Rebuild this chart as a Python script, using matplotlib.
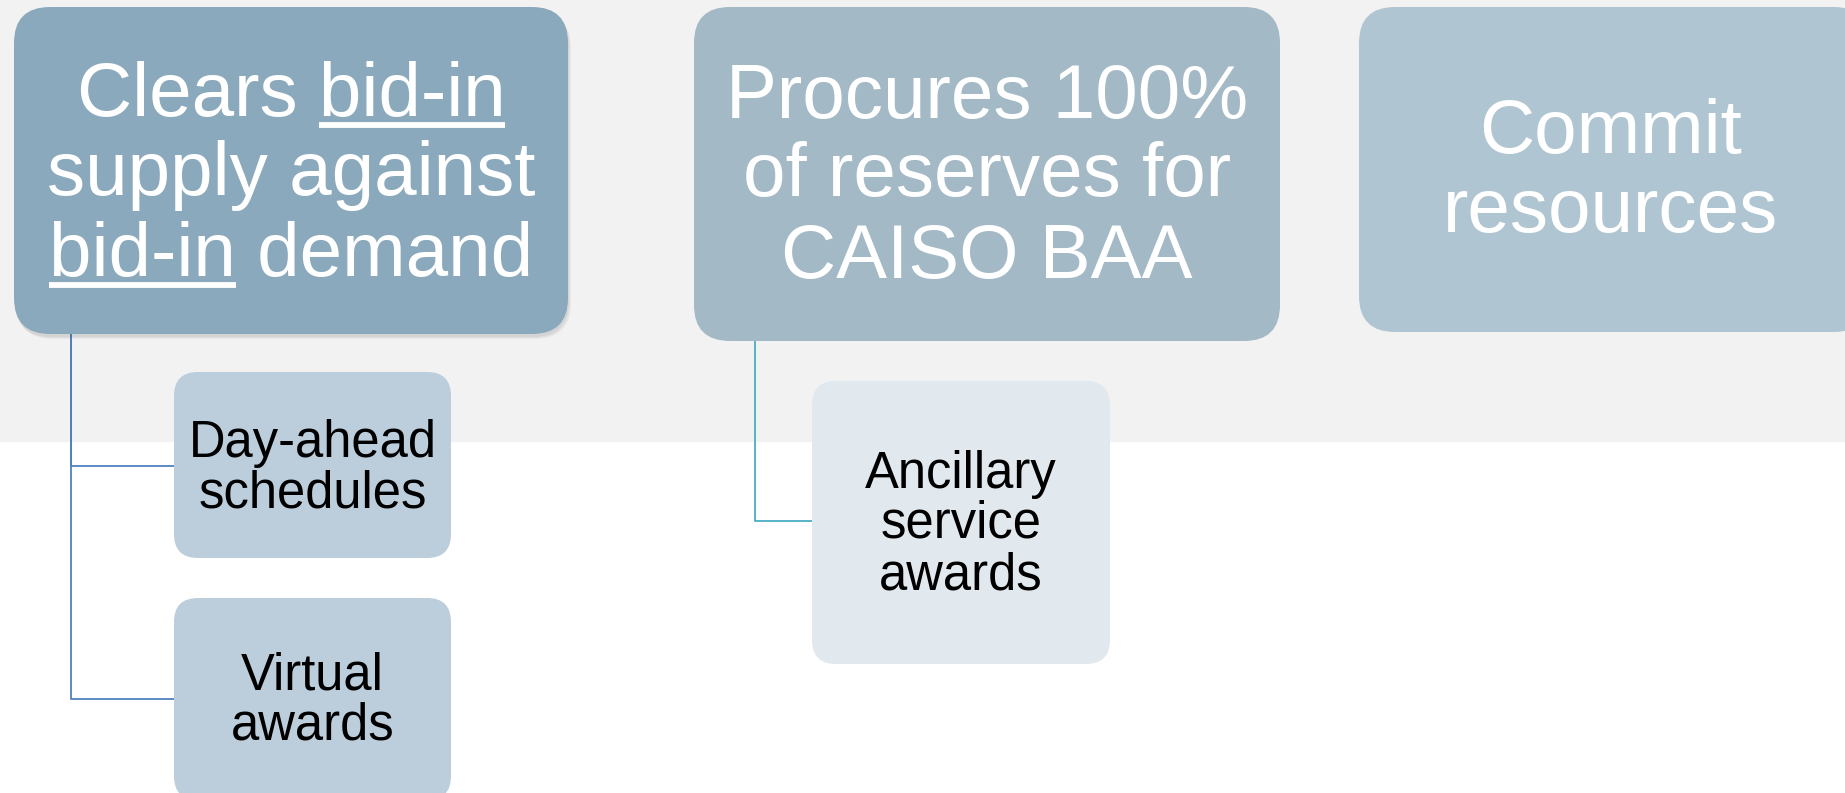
import matplotlib
matplotlib.use('Agg')
import matplotlib.pyplot as plt
from matplotlib.patches import FancyBboxPatch, Rectangle

plt.rcParams['font.family'] = ['Liberation Sans', 'DejaVu Sans']

# text of the diagram
main_lines = [
    ['Clears bid-in', 'supply against', 'bid-in demand'],
    ['Procures 100%', 'of reserves for', 'CAISO BAA'],
    ['Commit', 'resources'],
]
# underlined word per line (None = no underline)
main_underline = [
    ['bid-in', None, 'bid-in'],
    [None, None, None],
    [None, None],
]
child_lines = [
    ['Day-ahead', 'schedules'],
    ['Virtual', 'awards'],
    ['Ancillary', 'service', 'awards'],
]
child_parent = [0, 0, 1]

# layout in pixels (x0, y0, x1, y1)
main_boxes = [(14, 7, 568, 334), (694, 7, 1280, 341), (1359, 7, 1870, 332)]
main_colors = ['#8ba9bc', '#a3b9c6', '#b0c5d2']
main_base = [[116, 195, 276], [118, 196, 278], [153, 232]]
child_boxes = [(174, 372, 451, 558), (174, 598, 451, 800), (812, 381, 1110, 664)]
child_colors = ['#bccedb', '#bccedb', '#e1e9ee']
child_base = [[457, 507], [690, 740], [488, 538, 589]]
conn_x = [71, 71, 755]
conn_y = [466, 699, 521]
conn_colors = ['#4f81bd', '#4f81bd', '#4bacc6']

W, H = 1845, 793
fig = plt.figure(figsize=(W / 100, H / 100), dpi=100)
ax = fig.add_axes([0, 0, 1, 1])
ax.set_xlim(0, W)
ax.set_ylim(H, 0)
ax.axis('off')

# grey band behind top row
ax.add_patch(Rectangle((0, 0), W, 441, color='#f2f2f2', zorder=0))

# connectors
for i, p in enumerate(child_parent):
    top = main_boxes[p][3]
    x = conn_x[i]
    ax.plot([x, x, child_boxes[i][0]], [top, conn_y[i], conn_y[i]],
            color=conn_colors[i], lw=1.3, zorder=1, solid_capstyle='butt')

# shadow under first box
x0, y0, x1, y1 = main_boxes[0]
for k, a in enumerate([0.06, 0.06, 0.08]):
    off = 3 - k
    ax.add_patch(FancyBboxPatch((x0 + off, y0 + off + 2), x1 - x0, y1 - y0,
                                boxstyle='round,pad=0,rounding_size=36',
                                fc='#555555', ec='none', alpha=a, zorder=1.5))

for i, (x0, y0, x1, y1) in enumerate(main_boxes):
    ax.add_patch(FancyBboxPatch((x0, y0), x1 - x0, y1 - y0,
                                boxstyle='round,pad=0,rounding_size=36',
                                fc=main_colors[i], ec='none', zorder=2))

for i, (x0, y0, x1, y1) in enumerate(child_boxes):
    ax.add_patch(FancyBboxPatch((x0, y0), x1 - x0, y1 - y0,
                                boxstyle='round,pad=0,rounding_size=24',
                                fc=child_colors[i], ec='none', zorder=2))

fig.canvas.draw()
renderer = fig.canvas.get_renderer()


def text_w(s, size):
    t = ax.text(0, 0, s, fontsize=size)
    w = t.get_window_extent(renderer).width
    t.remove()
    return w


main_size = 55
for i, lines in enumerate(main_lines):
    x0, y0, x1, y1 = main_boxes[i]
    cx = (x0 + min(x1, 1862)) / 2
    for j, s in enumerate(lines):
        y = main_base[i][j]
        ax.text(cx, y, s, fontsize=main_size, color='white',
                ha='center', va='baseline', zorder=3)
        u = main_underline[i][j]
        if u:
            full = text_w(s, main_size)
            uw = text_w(u, main_size)
            left = cx - full / 2
            if s.startswith(u):
                ux0 = left
            else:
                ux0 = left + full - uw
            ax.plot([ux0, ux0 + uw], [y + 9, y + 9], color='white', lw=4.2,
                    solid_capstyle='butt', zorder=3)

for i, lines in enumerate(child_lines):
    x0, y0, x1, y1 = child_boxes[i]
    cx = (x0 + x1) / 2
    for j, s in enumerate(lines):
        ax.text(cx, child_base[i][j], s, fontsize=36.5, color='black',
                ha='center', va='baseline', zorder=3)

fig.savefig('out.png', dpi=100)
